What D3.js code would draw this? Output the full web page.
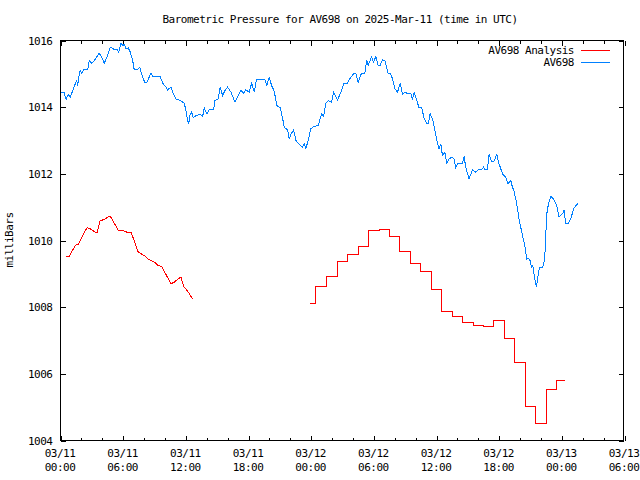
<!DOCTYPE html>
<html>
<head>
<meta charset="utf-8">
<script src="https://cdn.jsdelivr.net/npm/d3@7"></script>
<style>
  body { margin: 0; background: #fff; }
  svg { display: block; }
  text { font-family: "DejaVu Sans Mono", "Liberation Mono", monospace; font-size: 11px; letter-spacing: -0.5px; fill: #000; }
</style>
</head>
<body>
<svg id="chart" width="640" height="480"></svg>
<script>
// ---- data (hours since 2025-03-11 00:00 UTC, pressure in mb) ----
const obsHours = [0.05,0.36,0.53,0.75,0.94,1.17,1.39,1.55,1.65,1.74,1.89,2.03,2.22,2.60,2.76,2.99,3.23,3.71,3.94,4.19,4.45,4.77,5.15,5.47,5.57,5.79,5.95,6.11,6.27,6.49,6.68,6.91,7.06,7.32,7.58,7.87,8.09,8.28,8.66,8.82,9.55,9.78,10.10,10.26,10.57,10.74,11.05,11.46,11.85,12.01,12.17,12.27,12.39,12.56,12.71,12.97,13.38,13.61,13.76,14.02,14.24,14.66,14.78,15.10,15.29,15.52,15.74,16.00,16.32,16.70,16.96,17.27,17.53,17.75,18.07,18.30,18.55,18.76,19.57,19.76,19.98,20.21,20.46,20.72,21.03,21.26,21.42,21.74,21.89,22.12,22.32,22.54,22.85,23.18,23.33,23.49,23.71,23.97,24.23,24.67,24.86,25.00,25.19,25.41,25.63,25.95,26.14,26.53,26.84,27.16,27.42,27.80,28.11,28.28,28.50,28.82,29.14,29.33,29.45,29.78,29.97,30.19,30.41,30.60,30.83,31.05,31.37,31.56,31.79,32.01,32.27,32.52,32.75,32.97,33.28,33.54,33.70,33.86,34.11,34.33,34.56,34.81,35.07,35.23,35.39,35.62,35.84,36.08,36.25,36.41,36.57,36.79,36.99,37.21,37.46,37.68,37.85,38.01,38.49,38.64,38.80,39.12,39.44,39.76,39.98,40.31,40.50,40.62,40.88,41.03,41.26,41.51,41.77,41.99,42.32,42.63,42.85,43.11,43.27,43.43,43.68,43.90,44.23,44.45,44.64,44.77,44.96,45.09,45.22,45.34,45.44,45.57,45.72,45.86,46.17,46.36,46.46,46.56,46.72,46.94,47.19,47.51,47.73,48.06,48.21,48.37,48.59,48.85,49.17,49.55];
const obsValues = [1014.43,1014.43,1014.23,1014.38,1014.30,1014.50,1014.68,1014.80,1014.65,1014.90,1015.10,1015.02,1015.12,1015.12,1015.40,1015.32,1015.40,1015.62,1015.50,1015.32,1015.50,1015.80,1015.73,1015.72,1015.65,1015.92,1015.85,1015.88,1015.75,1015.78,1015.65,1015.40,1015.12,1015.12,1015.20,1014.90,1014.73,1014.75,1015.02,1014.92,1014.92,1014.72,1014.60,1014.52,1014.60,1014.45,1014.25,1014.20,1014.12,1013.90,1013.60,1013.50,1013.75,1013.85,1013.68,1013.75,1013.78,1013.72,1013.98,1013.80,1013.92,1013.92,1014.20,1014.25,1014.60,1014.35,1014.50,1014.60,1014.45,1014.15,1014.32,1014.50,1014.42,1014.52,1014.45,1014.72,1014.45,1014.82,1014.82,1014.65,1014.90,1014.65,1014.48,1014.05,1013.98,1013.68,1013.40,1013.32,1013.05,1013.22,1013.32,1013.00,1012.88,1012.80,1012.90,1012.75,1013.00,1013.35,1013.42,1013.45,1013.65,1013.80,1013.72,1014.12,1014.20,1014.15,1014.45,1014.22,1014.45,1014.72,1014.70,1014.90,1015.02,1015.02,1014.75,1015.02,1015.02,1015.42,1015.25,1015.50,1015.35,1015.52,1015.25,1015.25,1015.42,1015.40,1015.00,1015.02,1014.85,1014.55,1014.45,1014.72,1014.38,1014.45,1014.40,1014.42,1014.22,1014.45,1014.20,1013.98,1014.00,1013.68,1013.52,1013.52,1013.80,1013.65,1013.32,1012.95,1012.75,1012.90,1012.55,1012.65,1012.32,1012.45,1012.50,1012.45,1012.18,1012.30,1012.32,1012.52,1012.20,1011.85,1012.12,1012.05,1012.12,1012.12,1012.20,1012.12,1012.12,1012.58,1012.38,1012.38,1012.58,1012.30,1012.00,1011.90,1011.70,1011.80,1011.60,1011.48,1011.10,1010.65,1010.15,1009.85,1009.45,1009.48,1009.40,1009.20,1009.25,1009.00,1008.80,1008.60,1008.95,1009.20,1009.20,1009.45,1010.15,1010.80,1011.10,1011.32,1011.25,1011.05,1010.70,1010.80,1010.90,1010.50,1010.50,1010.65,1010.98,1011.12];

const anaHours1 = [0.53,0.84,1.17,1.48,1.70,2.12,2.54,2.76,3.18,3.49,3.78,4.26,4.67,4.83,5.22,5.53,5.95,6.36,6.75,7.06,7.44,8.02,8.50,8.92,9.36,9.68,10.10,10.57,10.89,11.22,11.53,11.79,12.17,12.65];
const anaValues1 = [1009.53,1009.53,1009.72,1009.87,1009.87,1010.15,1010.38,1010.37,1010.28,1010.23,1010.58,1010.65,1010.72,1010.70,1010.48,1010.30,1010.30,1010.25,1010.24,1010.00,1009.65,1009.55,1009.42,1009.37,1009.25,1009.22,1008.98,1008.70,1008.75,1008.84,1008.90,1008.62,1008.48,1008.25];

const anaHours2 = [23.9,25,26,27,28,29,30,31,32,33,34,35,36,37,38,39,40,41,42,43,44,45,46,47,48,48.3];
const anaValues2 = [1008.10,1008.62,1008.92,1009.36,1009.58,1009.82,1010.29,1010.32,1010.12,1009.66,1009.30,1009.07,1008.52,1007.87,1007.72,1007.53,1007.45,1007.43,1007.60,1007.05,1006.35,1005.02,1004.50,1005.53,1005.80,1005.80];

const yTicks = [1004,1006,1008,1010,1012,1014,1016];
const titleText = "Barometric Pressure for AV698 on 2025-Mar-11 (time in UTC)";
const yLabel = "milliBars";
const legendLabels = ["AV698 Analysis", "AV698"];
const colors = ["#ff0000", "#0080ff"];

// ---- chart ----
const base = Date.UTC(2025, 2, 11, 0, 0);
const toDate = h => new Date(base + h * 3600e3);
const svg = d3.select("#chart");
const L = 60, R = 624, T = 40, B = 440;

const x = d3.scaleUtc().domain([toDate(0), toDate(54)]).range([L, R]);
const y = d3.scaleLinear().domain([1004, 1016]).range([B, T]);

const majorX = d3.range(0, 55, 6).map(toDate);
const minorX = d3.range(0, 55, 2).filter(h => h % 6 !== 0).map(toDate);

// frame
svg.append("rect").attr("x", L + 0.5).attr("y", T + 0.5).attr("width", R - L - 1).attr("height", B - T)
  .attr("fill", "none").attr("stroke", "#000").attr("stroke-width", 1).attr("shape-rendering", "crispEdges");

function tickAxis(g) { g.select(".domain").remove(); g.selectAll("line").attr("shape-rendering", "crispEdges").attr("stroke", "#000"); }

svg.append("g").attr("transform", `translate(0.5,${B + 0.5})`)
  .call(d3.axisBottom(x).tickValues(majorX).tickSize(-5).tickFormat(() => "")).call(tickAxis);
svg.append("g").attr("transform", `translate(0.5,${B + 0.5})`)
  .call(d3.axisBottom(x).tickValues(minorX).tickSize(-3).tickFormat(() => "")).call(tickAxis);
svg.append("g").attr("transform", `translate(0.5,${T + 0.5})`)
  .call(d3.axisTop(x).tickValues(majorX).tickSize(-5).tickFormat(() => "")).call(tickAxis);
svg.append("g").attr("transform", `translate(0.5,${T + 0.5})`)
  .call(d3.axisTop(x).tickValues(minorX).tickSize(-3).tickFormat(() => "")).call(tickAxis);

// x labels (two lines)
const fmtD = d3.utcFormat("%m/%d"), fmtT = d3.utcFormat("%H:%M");
const xl = svg.append("g").selectAll("text").data(majorX).join("text")
  .attr("x", d => x(d)).attr("text-anchor", "middle");
xl.append("tspan").attr("x", d => x(d)).attr("y", 457).text(d => fmtD(d));
xl.append("tspan").attr("x", d => x(d)).attr("y", 471).text(d => fmtT(d));

// y axes
svg.append("g").attr("transform", `translate(${L + 0.5},0.5)`)
  .call(d3.axisLeft(y).tickValues(yTicks).tickSize(-5).tickPadding(8).tickFormat(d3.format("d")))
  .call(tickAxis).call(g => g.selectAll("text").attr("font-family", null).attr("font-size", null).attr("fill", "#000"));
svg.append("g").attr("transform", `translate(${R - 0.5},0.5)`)
  .call(d3.axisRight(y).tickValues(yTicks).tickSize(-5).tickFormat(() => "")).call(tickAxis);

// lines
const line = d3.line().x(d => x(toDate(d[0]))).y(d => y(d[1]));
const stepLine = d3.line().x(d => x(toDate(d[0]))).y(d => y(d[1])).curve(d3.curveStep);
const zip = (a, b) => a.map((v, i) => [v, b[i]]);

const lines = svg.append("g").attr("transform", "translate(0.5,0.5)");
lines.append("path").attr("d", line(zip(anaHours1, anaValues1)))
  .attr("fill", "none").attr("stroke", colors[0]).attr("stroke-width", 1).attr("shape-rendering", "crispEdges");
lines.append("path").attr("d", stepLine(zip(anaHours2, anaValues2).map(d => [d[0], Math.round(y(d[1])) === y(d[1]) ? d[1] : d[1]])))
  .attr("fill", "none").attr("stroke", colors[0]).attr("stroke-width", 1).attr("shape-rendering", "crispEdges");
lines.append("path").attr("d", line(zip(obsHours, obsValues)))
  .attr("fill", "none").attr("stroke", colors[1]).attr("stroke-width", 1).attr("shape-rendering", "crispEdges");

// title & y label
svg.append("text").attr("x", 340).attr("y", 23).attr("text-anchor", "middle").text(titleText);
svg.append("text").attr("transform", "translate(13,240) rotate(-90)").attr("text-anchor", "middle").text(yLabel);

// legend
legendLabels.forEach((lab, i) => {
  const ly = 50 + i * 12;
  svg.append("text").attr("x", 574).attr("y", ly + 4).attr("text-anchor", "end").text(lab);
  svg.append("line").attr("x1", 581).attr("x2", 610).attr("y1", ly + 0.5).attr("y2", ly + 0.5)
    .attr("stroke", colors[i]).attr("stroke-width", 1).attr("shape-rendering", "crispEdges");
});
</script>
</body>
</html>
